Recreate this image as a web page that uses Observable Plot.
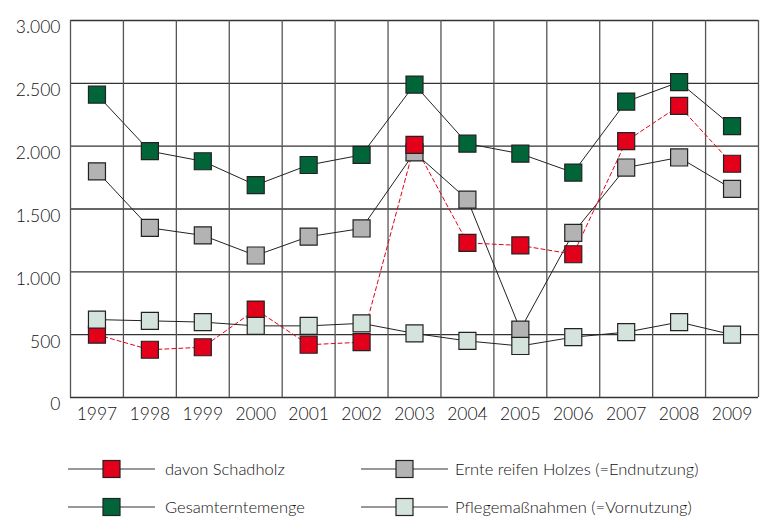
<!DOCTYPE html>
<html><head><meta charset="utf-8">
<script src="https://cdn.jsdelivr.net/npm/d3@7"></script>
<script src="https://cdn.jsdelivr.net/npm/@observablehq/plot@0.6"></script>
<style>
body{margin:0;background:#fff;font-family:Lato,"Open Sans",sans-serif;}
#chart svg{display:block;}
</style></head>
<body><div id="chart"></div>
<script>
const years = [1997,1998,1999,2000,2001,2002,2003,2004,2005,2006,2007,2008,2009];
const schadholz = [500,380,400,700,420,440,2010,1230,1210,1140,2040,2320,1860];
const gesamt = [2410,1960,1880,1690,1850,1930,2490,2020,1940,1790,2355,2510,2160];
const ernte = [1800,1350,1290,1130,1280,1345,1950,1575,540,1310,1830,1910,1660];
const pflege = [620,610,600,570,570,590,510,450,410,480,520,600,500];
const yTicks = [0,500,1000,1500,2000,2500,3000];
const seriesNames = ["davon Schadholz","Ernte reifen Holzes (=Endnutzung)","Gesamterntemenge","Pflegemaßnahmen (=Vornutzung)"];
const colors = {"davon Schadholz":"#e2001a","Gesamterntemenge":"#00663a","Ernte reifen Holzes (=Endnutzung)":"#b3b3b3","Pflegemaßnahmen (=Vornutzung)":"#d4e4dc"};

const de = d3.formatLocale({decimal:",",thousands:".",grouping:[3],currency:["","€"]});
const fmt = de.format(",");
const toRows = (vals) => years.map((y,i)=>({year:y,value:vals[i]}));
const bounds = [...years.map(y=>y-0.5), years[years.length-1]+0.5];

const order = [["Ernte reifen Holzes (=Endnutzung)",ernte],["davon Schadholz",schadholz],["Gesamterntemenge",gesamt],["Pflegemaßnahmen (=Vornutzung)",pflege]];
const marks = [
  Plot.ruleY(yTicks,{stroke:"#333",strokeWidth:1.3}),
  Plot.ruleX(bounds,{stroke:"#555",strokeWidth:1.3}),
];
for (const [name,vals] of order) {
  const red = name==="davon Schadholz";
  marks.push(Plot.lineY(toRows(vals),{x:"year",y:"value",stroke:red?"#e2001a":"#222",strokeWidth:1,strokeDasharray:red?"4,3":null}));
}
for (const [name,vals] of order) {
  marks.push(Plot.dot(toRows(vals),{x:"year",y:"value",symbol:"square",r:9.6,fill:colors[name],stroke:"#222",strokeWidth:1.2}));
}
const chart = Plot.plot({
  width:768,height:432,
  marginTop:20,marginLeft:70,marginRight:10,marginBottom:35,
  style:{fontFamily:"Lato, sans-serif",fontWeight:300,fontSize:"17.5px",color:"#111",background:"#fff"},
  x:{domain:[years[0]-0.5,years[years.length-1]+0.5],ticks:years,tickFormat:d=>String(d),tickSize:0,tickPadding:10,label:null},
  y:{domain:[0,3000],ticks:yTicks,tickFormat:fmt,tickSize:0,tickPadding:10,label:null},
  marks
});
d3.select(chart).selectAll("[aria-label='y-axis tick label'] text").attr("dy","0.42em");
document.getElementById("chart").appendChild(chart);

// legend below
const legend = d3.select("#chart").append("svg").attr("width",768).attr("height",88);
const items = [
  {name:"davon Schadholz",x:68,y:37},
  {name:"Ernte reifen Holzes (=Endnutzung)",x:361,y:37},
  {name:"Gesamterntemenge",x:68,y:75},
  {name:"Pflegemaßnahmen (=Vornutzung)",x:361,y:75}
];
const g = legend.selectAll("g").data(items).join("g").attr("transform",d=>`translate(${d.x},${d.y})`);
g.append("line").attr("x1",0).attr("x2",87).attr("y1",0).attr("y2",0).attr("stroke","#333").attr("stroke-width",1.2);
g.append("rect").attr("x",35).attr("y",-8.5).attr("width",17).attr("height",17).attr("fill",d=>colors[d.name]).attr("stroke","#222").attr("stroke-width",1.2);
g.append("text").attr("x",d=>d.x<100?97:94).attr("y",0).attr("dy","0.35em").attr("font-family","Lato, sans-serif").attr("font-weight",300).attr("font-size",16.5).attr("fill","#111").text(d=>d.name);
</script></body></html>
